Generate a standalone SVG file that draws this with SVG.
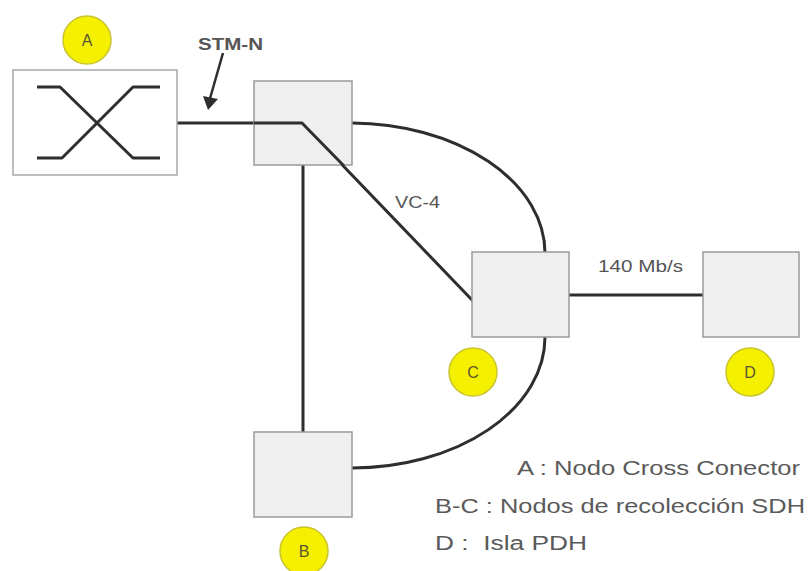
<svg xmlns="http://www.w3.org/2000/svg" width="809" height="571" viewBox="0 0 809 571">
<style>
.box{fill:#efefef;stroke:#9a9a9a;stroke-width:1.5}
.boxA{fill:#ffffff;stroke:#a8a8a8;stroke-width:1.5}
.ln{fill:none;stroke:#2e2e2e;stroke-width:3;stroke-linejoin:round}
.badge{fill:#f4f000;stroke:#c9c430;stroke-width:1.5}
.bt{font-family:"Liberation Sans",Arial,sans-serif;font-size:16px;fill:#5a5530;text-anchor:middle}
.lbl{font-family:"Liberation Sans",Arial,sans-serif;fill:#555555}
.leg{font-family:"Liberation Sans",Arial,sans-serif;font-size:20px;fill:#5a5a5a;white-space:pre}
</style>
<defs>
<marker id="ah" markerWidth="10" markerHeight="10" refX="8" refY="5" orient="auto" markerUnits="userSpaceOnUse" viewBox="0 0 10 10">
<path d="M0,0 L10,5 L0,10 z" fill="#2e2e2e"/>
</marker>
</defs>
<rect width="809" height="571" fill="#ffffff"/>
<g id="connectors">
<path class="ln" d="M177,123 L302,123 L473,301"/>
<path class="ln" d="M352,123 A195,130 0 0 1 545,253"/>
<path class="ln" d="M545,337 A193,131 0 0 1 352,468"/>
<path class="ln" d="M303,165 L303,432"/>
<path class="ln" d="M569,295 L703,295"/>
<path d="M223,53 L209,102" stroke="#2e2e2e" stroke-width="2.5" fill="none"/>
<path d="M203,96 L208,110 L218,99 z" fill="#2e2e2e"/>
</g>
<g id="nodeA">
<rect class="boxA" x="13" y="70" width="164" height="105"/>
<path class="ln" d="M37,87 L60,87 L133,158 L160,158"/>
<path class="ln" d="M37,158 L62,158 L133,87 L160,87"/>
<circle class="badge" cx="87" cy="40" r="24"/>
<text class="bt" x="87" y="46">A</text>
</g>
<g id="node1">
<rect class="box" x="254" y="81" width="98" height="84"/>
<path class="ln" d="M254,123 L302,123 L344,166"/>
</g>
<g id="nodeB">
<rect class="box" x="254" y="432" width="98" height="85"/>
<circle class="badge" cx="304" cy="551" r="24"/>
<text class="bt" x="304" y="557">B</text>
</g>
<g id="nodeC">
<rect class="box" x="472" y="252" width="97" height="85"/>
<circle class="badge" cx="473" cy="372" r="24"/>
<text class="bt" x="473" y="378">C</text>
</g>
<g id="nodeD">
<rect class="box" x="703" y="252" width="96" height="85"/>
<circle class="badge" cx="750" cy="372" r="24"/>
<text class="bt" x="750" y="378">D</text>
</g>
<g id="labels">
<text class="lbl" x="198" y="50" font-size="17" font-weight="bold" textLength="65" lengthAdjust="spacingAndGlyphs">STM-N</text>
<text class="lbl" x="395" y="208" font-size="16" textLength="45" lengthAdjust="spacingAndGlyphs">VC-4</text>
<text class="lbl" x="598" y="272" font-size="16" textLength="85" lengthAdjust="spacingAndGlyphs">140 Mb/s</text>
</g>
<g id="legend">
<text class="leg" x="517" y="475" textLength="283" lengthAdjust="spacingAndGlyphs">A : Nodo Cross Conector</text>
<text class="leg" x="435" y="513" textLength="370" lengthAdjust="spacingAndGlyphs">B-C : Nodos de recolección SDH</text>
<text class="leg" x="435" y="550" textLength="152" lengthAdjust="spacingAndGlyphs">D :  Isla PDH</text>
</g>
</svg>
